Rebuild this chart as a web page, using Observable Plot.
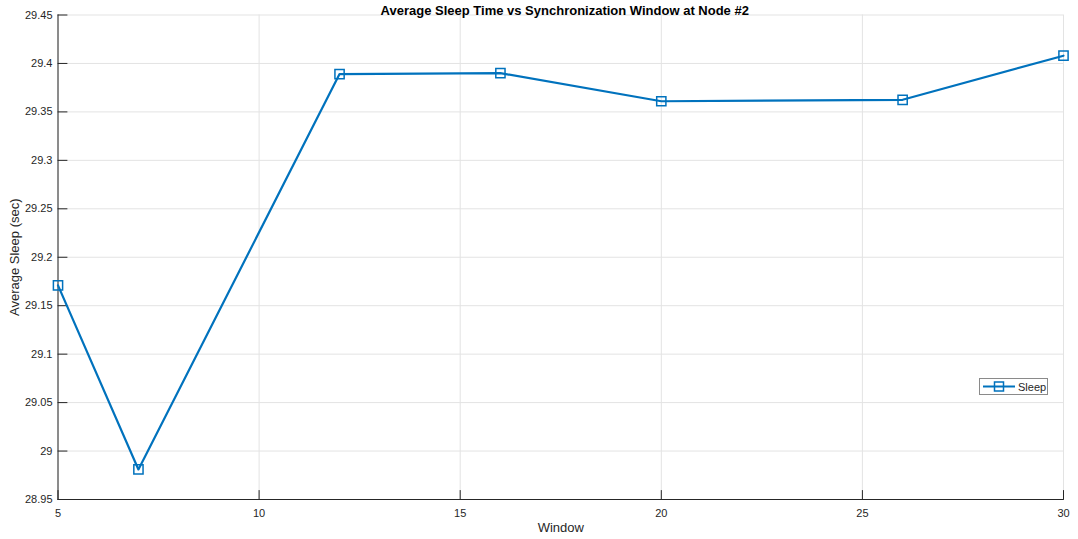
<!DOCTYPE html>
<html>
<head>
<meta charset="utf-8">
<script src="https://cdn.jsdelivr.net/npm/d3@7"></script>
<script src="https://cdn.jsdelivr.net/npm/@observablehq/plot@0.6"></script>
<style>
  body { margin: 0; background: #fff; }
  #wrap { position: relative; width: 1078px; height: 539px; font-family: "Liberation Sans", Arial, sans-serif; }
  #legend { position: absolute; left: 979px; top: 378px; width: 69px; height: 17px; border: 1px solid #8a8a8a; background: #fff; box-sizing: border-box; display: flex; align-items: center; font-size: 11px; color: #262626; }
  #legend svg { display: block; }
</style>
</head>
<body>
<div id="wrap"></div>
<script>
const windows = [5, 7, 12, 16, 20, 26, 30];
const sleep = [29.171, 28.981, 29.389, 29.390, 29.361, 29.3625, 29.408];
const xTicks = [5, 10, 15, 20, 25, 30];
const yTicks = [28.95, 29, 29.05, 29.1, 29.15, 29.2, 29.25, 29.3, 29.35, 29.4, 29.45];
const seriesName = "Sleep";
const title = "Average Sleep Time vs Synchronization Window at Node #2";
const xLabel = "Window";
const yLabel = "Average Sleep (sec)";

const data = windows.map((w, i) => ({w, s: sleep[i]}));
const blue = "#0072BD";
const axisColor = "#262626";
const fmt = d => String(d);
const tickShape = {draw(ctx, l) { ctx.moveTo(0, 0); ctx.lineTo(0, -l); }};

const chart = Plot.plot({
  width: 1078,
  height: 539,
  marginLeft: 57.5,
  marginRight: 15,
  marginTop: 14.5,
  marginBottom: 40,
  style: {fontFamily: "'Liberation Sans', Arial, sans-serif", fontSize: "11px", color: axisColor, background: "#fff"},
  x: {domain: [5, 30]},
  y: {domain: [28.95, 29.45]},
  marks: [
    Plot.gridX(xTicks, {stroke: "#e3e3e3", strokeOpacity: 1}),
    Plot.gridY(yTicks, {stroke: "#e3e3e3", strokeOpacity: 1}),
    Plot.axisX(xTicks, {tickSize: 0, tickPadding: 10, fontSize: 11, label: null, fill: axisColor, tickFormat: fmt}),
    Plot.axisY(yTicks, {tickSize: 0, tickPadding: 5.5, fontSize: 11, label: null, fill: axisColor, tickFormat: fmt}),
    Plot.vector(xTicks, {x: d => d, frameAnchor: "bottom", length: 9, rotate: 0, anchor: "start", shape: tickShape, stroke: axisColor, strokeWidth: 1}),
    Plot.vector(yTicks, {y: d => d, frameAnchor: "left", length: 9, rotate: 90, anchor: "start", shape: tickShape, stroke: axisColor, strokeWidth: 1}),
    Plot.ruleX([5], {stroke: axisColor}),
    Plot.ruleY([28.95], {stroke: axisColor}),
    Plot.line(data, {x: "w", y: "s", stroke: blue, strokeWidth: 2.2}),
    Plot.dot(data, {x: "w", y: "s", symbol: "square", r: 5.2, stroke: blue, strokeWidth: 1.5, fill: "none"}),
    Plot.text([title], {frameAnchor: "top", dx: 4, dy: -9, fontWeight: "bold", fontSize: 13, fill: "#000"}),
    Plot.text([xLabel], {frameAnchor: "bottom", dy: 32, fontSize: 13, fill: axisColor}),
    Plot.text([yLabel], {frameAnchor: "left", textAnchor: "middle", dx: -43.5, rotate: -90, fontSize: 13, fill: axisColor})
  ]
});

const wrap = document.getElementById("wrap");
wrap.appendChild(chart);

const legend = document.createElement("div");
legend.id = "legend";
legend.innerHTML = `<svg width="38" height="15"><line x1="3" x2="35" y1="7.5" y2="7.5" stroke="${blue}" stroke-width="2"/><rect x="14.5" y="3" width="9" height="9" fill="none" stroke="${blue}" stroke-width="1.5"/></svg><span>${seriesName}</span>`;
wrap.appendChild(legend);
</script>
</body>
</html>
